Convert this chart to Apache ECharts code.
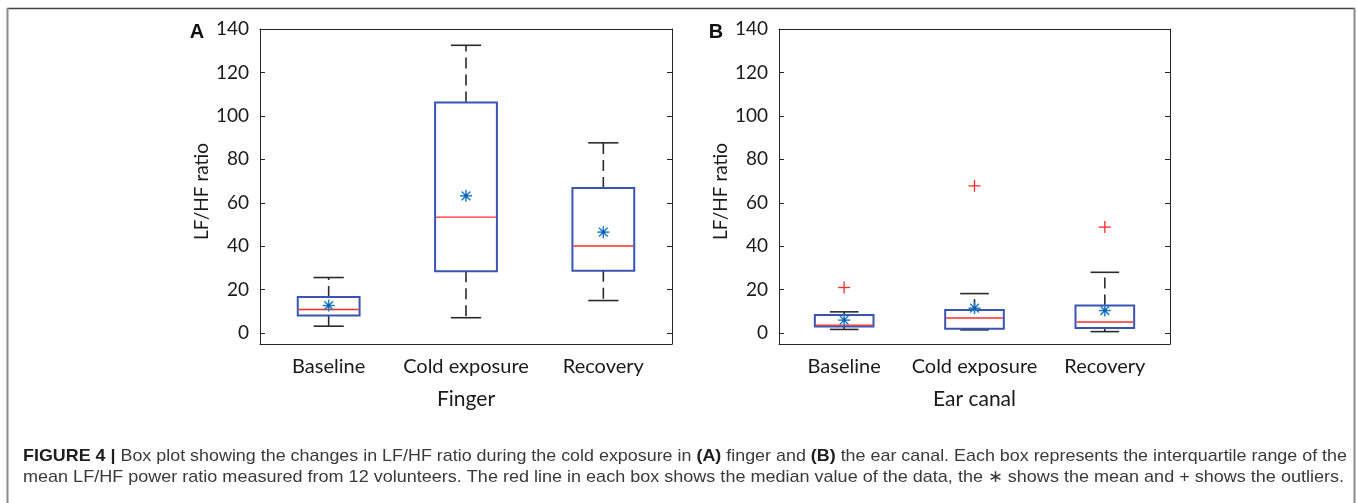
<!DOCTYPE html>
<html>
<head>
<meta charset="utf-8">
<script src="https://cdn.jsdelivr.net/npm/echarts@6/dist/echarts.min.js"></script>
<style>
  html, body { margin: 0; padding: 0; background: #ffffff; }
  #chart { width: 1357px; height: 503px; }
</style>
</head>
<body>
<div id="chart"></div>
<script>
// ---------------- DATA ----------------
const categories = ['Baseline', 'Cold exposure', 'Recovery'];
const yTickValues = [0, 20, 40, 60, 80, 100, 120, 140];

// [lower whisker, Q1, median, Q3, upper whisker]
const fingerStats = [
  [3.2, 8.1, 10.9, 16.6, 25.6],
  [7.1, 28.5, 53.4, 106.2, 132.5],
  [15.0, 28.7, 40.1, 66.8, 87.6]
];
const fingerMeans = [12.7, 63.2, 46.5];
const fingerOutliers = [];

const earStats = [
  [1.7, 3.0, 3.7, 8.4, 9.8],
  [1.5, 2.0, 7.0, 10.6, 18.2],
  [0.7, 2.4, 5.1, 12.7, 28.0]
];
const earMeans = [6.0, 11.5, 10.4];
// [category index, value]
const earOutliers = [[0, 21.0], [1, 67.8], [2, 48.8]];

const panelTitles = ['Finger', 'Ear canal'];
const panelLetters = ['A', 'B'];
const yAxisTitle = 'LF/HF ratio';

const captionLine1 = [
  ['b', 'FIGURE 4 | '],
  ['r', 'Box plot showing the changes in LF/HF ratio during the cold exposure in '],
  ['b', '(A)'],
  ['r', ' finger and '],
  ['b', '(B)'],
  ['r', ' the ear canal. Each box represents the interquartile range of the']
];
const captionLine2 = [
  ['r', 'mean LF/HF power ratio measured from 12 volunteers. The red line in each box shows the median value of the data, the \u2217 shows the mean and + shows the outliers.']
];

// ---------------- STYLE ----------------
const FONT = 'Lato, "Open Sans", "Liberation Sans", sans-serif';
const CAP_FONT = '"Liberation Sans Narrow", "Liberation Sans", Arial, sans-serif';
const AXIS_COLOR = '#262626';
const TEXT_COLOR = '#1a1a1a';
const BOX_COLOR = '#3a54b4';
const MED_COLOR = '#ff2b2b';
const MEAN_COLOR = '#1f7bc6';
const OUT_COLOR = '#ff2b2b';
const WHISK_COLOR = '#2b2b2b';

const grids = [
  { left: 260, top: 29, width: 412, height: 315 },
  { left: 779, top: 29, width: 391, height: 315 }
];

const chart = echarts.init(document.getElementById('chart'), null, { renderer: 'canvas' });

function boxRender(params, api) {
  const i = api.value(0);
  const lo = api.value(1), q1 = api.value(2), med = api.value(3), q3 = api.value(4), hi = api.value(5);
  const cx = api.coord([i, 0])[0];
  const bw = api.size([1, 0])[0];
  const half = bw * 0.225;
  const capHalf = bw * 0.11;
  const y = v => api.coord([i, v])[1];
  const yLo = y(lo), yQ1 = y(q1), yMed = y(med), yQ3 = y(q3), yHi = y(hi);
  const dash = { stroke: WHISK_COLOR, lineWidth: 1.6, lineDash: [11, 6] };
  const solid = { stroke: WHISK_COLOR, lineWidth: 1.6 };
  return {
    type: 'group',
    children: [
      { type: 'line', shape: { x1: cx, y1: yQ3, x2: cx, y2: yHi }, style: dash },
      { type: 'line', shape: { x1: cx, y1: yQ1, x2: cx, y2: yLo }, style: dash },
      { type: 'line', shape: { x1: cx - capHalf, y1: yHi, x2: cx + capHalf, y2: yHi }, style: solid },
      { type: 'line', shape: { x1: cx - capHalf, y1: yLo, x2: cx + capHalf, y2: yLo }, style: solid },
      { type: 'rect', shape: { x: cx - half, y: yQ3, width: 2 * half, height: yQ1 - yQ3 },
        style: { fill: '#ffffff', stroke: BOX_COLOR, lineWidth: 2 } },
      { type: 'line', shape: { x1: cx - half + 1, y1: yMed, x2: cx + half - 1, y2: yMed },
        style: { stroke: MED_COLOR, lineWidth: 1.4 } }
    ]
  };
}

function starRender(params, api) {
  const p = api.coord([api.value(0), api.value(1)]);
  const r = 6, d = r * 0.72;
  const st = { stroke: MEAN_COLOR, lineWidth: 1.5 };
  return {
    type: 'group',
    children: [
      { type: 'line', shape: { x1: p[0] - r, y1: p[1], x2: p[0] + r, y2: p[1] }, style: st },
      { type: 'line', shape: { x1: p[0], y1: p[1] - r, x2: p[0], y2: p[1] + r }, style: st },
      { type: 'line', shape: { x1: p[0] - d, y1: p[1] - d, x2: p[0] + d, y2: p[1] + d }, style: st },
      { type: 'line', shape: { x1: p[0] - d, y1: p[1] + d, x2: p[0] + d, y2: p[1] - d }, style: st },
      { type: 'circle', shape: { cx: p[0], cy: p[1], r: 1.8 }, style: { fill: '#0d5ea6' } }
    ]
  };
}

function plusRender(params, api) {
  const p = api.coord([api.value(0), api.value(1)]);
  const r = 6;
  const st = { stroke: OUT_COLOR, lineWidth: 1.3 };
  return {
    type: 'group',
    children: [
      { type: 'line', shape: { x1: p[0] - r, y1: p[1], x2: p[0] + r, y2: p[1] }, style: st },
      { type: 'line', shape: { x1: p[0], y1: p[1] - r, x2: p[0], y2: p[1] + r }, style: st }
    ]
  };
}

const xAxes = [], yAxes = [], series = [];
const panels = [
  { stats: fingerStats, means: fingerMeans, outliers: fingerOutliers },
  { stats: earStats, means: earMeans, outliers: earOutliers }
];

panels.forEach((pn, g) => {
  const xb = 2 * g, yl = 2 * g;
  xAxes.push({
    type: 'category', data: categories, gridIndex: g, position: 'bottom',
    axisLine: { onZero: false, lineStyle: { color: AXIS_COLOR, width: 1 } },
    axisTick: { inside: true, alignWithLabel: true, length: 5, lineStyle: { color: AXIS_COLOR } },
    axisLabel: { interval: 0, fontFamily: FONT, fontSize: 20, color: TEXT_COLOR, margin: 13 },
    name: panelTitles[g], nameLocation: 'middle', nameGap: 45,
    nameTextStyle: { fontFamily: FONT, fontSize: 21, color: TEXT_COLOR },
    splitLine: { show: false }
  });
  xAxes.push({
    type: 'category', data: categories, gridIndex: g, position: 'top',
    axisLine: { onZero: false, lineStyle: { color: AXIS_COLOR, width: 1 } },
    axisTick: { inside: true, alignWithLabel: true, length: 5, lineStyle: { color: AXIS_COLOR } },
    axisLabel: { show: false }, splitLine: { show: false }
  });
  yAxes.push({
    type: 'value', gridIndex: g, position: 'left', min: -5, max: 140,
    axisLine: { show: true, onZero: false, lineStyle: { color: AXIS_COLOR, width: 1 } },
    axisTick: { show: true, inside: true, length: 5, customValues: yTickValues, lineStyle: { color: AXIS_COLOR } },
    axisLabel: { fontFamily: FONT, fontSize: 19, color: TEXT_COLOR, margin: 11, customValues: yTickValues },
    splitLine: { show: false },
    name: yAxisTitle, nameLocation: 'middle', nameGap: 49, nameRotate: 90,
    nameTextStyle: { fontFamily: FONT, fontSize: 19, color: TEXT_COLOR, padding: [0, 10, 0, 0] }
  });
  yAxes.push({
    type: 'value', gridIndex: g, position: 'right', min: -5, max: 140,
    axisLine: { show: true, onZero: false, lineStyle: { color: AXIS_COLOR, width: 1 } },
    axisTick: { show: true, inside: true, length: 5, customValues: yTickValues, lineStyle: { color: AXIS_COLOR } },
    axisLabel: { show: false, customValues: yTickValues },
    splitLine: { show: false }
  });
  series.push({
    type: 'custom', xAxisIndex: xb, yAxisIndex: yl, renderItem: boxRender,
    encode: { x: 0, y: [1, 2, 3, 4, 5] },
    data: pn.stats.map((s, i) => [i].concat(s)), z: 2, silent: true
  });
  series.push({
    type: 'custom', xAxisIndex: xb, yAxisIndex: yl, renderItem: starRender,
    encode: { x: 0, y: 1 },
    data: pn.means.map((m, i) => [i, m]), z: 3, silent: true
  });
  series.push({
    type: 'custom', xAxisIndex: xb, yAxisIndex: yl, renderItem: plusRender,
    encode: { x: 0, y: 1 },
    data: pn.outliers.map(o => [o[0], o[1]]), z: 3, silent: true
  });
});

// caption: fit to measured widths
const mctx = document.createElement('canvas').getContext('2d');
const CAP_SIZE = 17;
function segWidth(segs) {
  let w = 0;
  segs.forEach(s => {
    mctx.font = (s[0] === 'b' ? 'bold ' : '') + CAP_SIZE + 'px ' + CAP_FONT;
    w += mctx.measureText(s[1]).width;
  });
  return w;
}
function captionText(segs) {
  return segs.map(s => '{' + s[0] + '|' + s[1] + '}').join('');
}
const capRich = {
  b: { fontFamily: CAP_FONT, fontSize: CAP_SIZE, fontWeight: 'bold', fill: '#1e1e1e' },
  r: { fontFamily: CAP_FONT, fontSize: CAP_SIZE, fill: '#3a3a3a' }
};
function captionEl(segs, x, y, target) {
  const sx = target / segWidth(segs);
  return {
    type: 'text', x: x, y: y, scaleX: sx, originX: 0, originY: 0,
    style: { text: captionText(segs), rich: capRich, font: CAP_SIZE + 'px ' + CAP_FONT,
      verticalAlign: 'middle', align: 'left' }
  };
}

const graphics = [
  // frame
  { type: 'line', shape: { x1: 7, y1: 8.5, x2: 1355, y2: 8.5 }, style: { stroke: '#444', lineWidth: 1.5 } },
  { type: 'line', shape: { x1: 7.5, y1: 8, x2: 7.5, y2: 503 }, style: { stroke: '#8a8a8a', lineWidth: 2 } },
  { type: 'line', shape: { x1: 1354.5, y1: 8, x2: 1354.5, y2: 503 }, style: { stroke: '#8a8a8a', lineWidth: 2 } },
  // panel letters
  { type: 'text', x: 197, y: 32, style: { text: panelLetters[0], font: 'bold 20px "Liberation Sans", Arial, sans-serif', fill: '#111', align: 'center', verticalAlign: 'middle' } },
  { type: 'text', x: 716, y: 32, style: { text: panelLetters[1], font: 'bold 20px "Liberation Sans", Arial, sans-serif', fill: '#111', align: 'center', verticalAlign: 'middle' } },
  captionEl(captionLine1, 23, 456, 1324),
  captionEl(captionLine2, 23, 477, 1321)
];

chart.setOption({
  backgroundColor: '#ffffff',
  animation: false,
  grid: grids.map(g => Object.assign({ containLabel: false }, g)),
  xAxis: xAxes,
  yAxis: yAxes,
  series: series,
  graphic: graphics
});
</script>
</body>
</html>
